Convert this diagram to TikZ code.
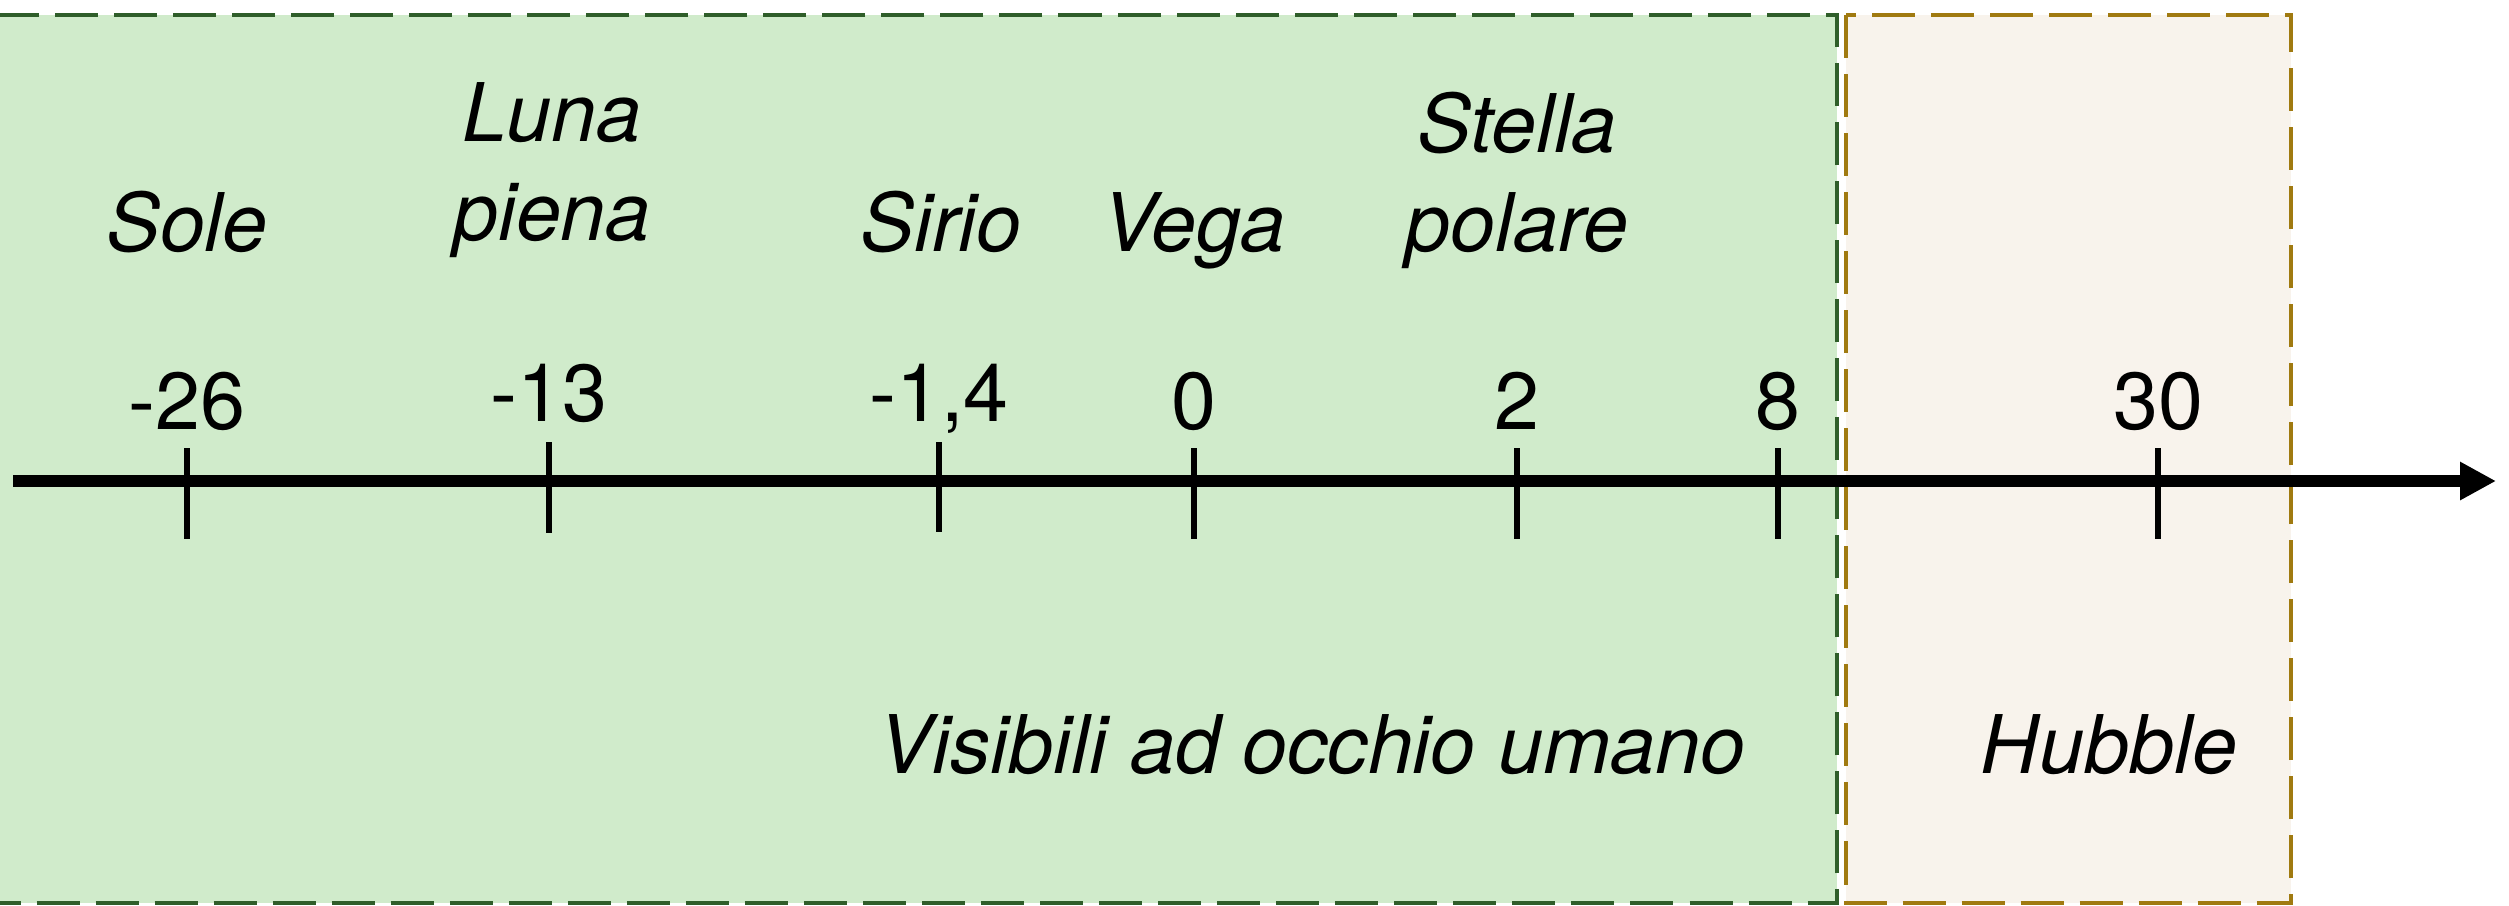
\documentclass[tikz,border=0pt]{standalone}
\usepackage{fontspec}
\setmainfont{TeX Gyre Heros}
\usetikzlibrary{arrows.meta}
\definecolor{greenfill}{HTML}{D0EBCB}
\definecolor{greenline}{HTML}{2F5E2A}
\definecolor{hubfill}{HTML}{F8F3EC}
\definecolor{hubline}{HTML}{A07A10}
\tikzset{
  zone/.style={line width=1.4pt, dash pattern=on 0.43cm off 0.16cm},
  lbl/.style={font=\fontsize{23}{28}\selectfont\itshape, inner sep=0pt, align=center, anchor=base},
  num/.style={font=\fontsize{23}{28}\selectfont, inner sep=0pt, anchor=base},
  tickline/.style={line width=1.8pt},
  axisline/.style={line width=3.2pt, -{Triangle[length=0.36cm,width=0.36cm]}}
}
\begin{document}
\begin{tikzpicture}[x=0.01cm,y=-0.01cm]
\useasboundingbox (0,0) rectangle (2509,905);
\clip (0,0) rectangle (2509,905);
% zones
\draw[zone, fill=greenfill, draw=greenline] (-20,15) rectangle (1837,903);
\draw[zone, fill=hubfill, draw=hubline] (1846,15) rectangle (2291,903);
% axis
\coordinate (axstart) at (13,481);
\coordinate (axend) at (2496,481);
\draw[axisline] (axstart) -- (axend);
% ticks
\foreach \name/\x/\ya/\yb in {t26/187/448/539, t13/549/442/533, t14/939/442/532, t0/1194/448/539, t2/1517/448/539, t8/1778/448/539, t30/2158/448/539}{
  \coordinate (\name a) at (\x,\ya);
  \coordinate (\name b) at (\x,\yb);
  \draw[tickline] (\name a) -- (\name b);
}
% numbers
\node[num] (n26) at (187,429) {-26};
\node[num] (n13) at (549,421) {-13};
\node[num] (n14) at (939,421) {-1,4};
\node[num] (n0) at (1194,429) {0};
\node[num] (n2) at (1517,429) {2};
\node[num] (n8) at (1778,429) {8};
\node[num] (n30) at (2158,429) {30};
% labels
\node[lbl] (sole) at (187,251) {Sole};
\node[lbl] (luna) at (552,240) {Luna\\piena};
\node[lbl] (sirio) at (941,251) {Sirio};
\node[lbl] (vega) at (1194,251) {Vega};
\node[lbl] (polare) at (1517,251) {Stella\\polare};
\node[lbl] (visibili) at (1312,773) {Visibili ad occhio umano};
\node[lbl] (hubble) at (2109,773) {Hubble};
\end{tikzpicture}
\end{document}
